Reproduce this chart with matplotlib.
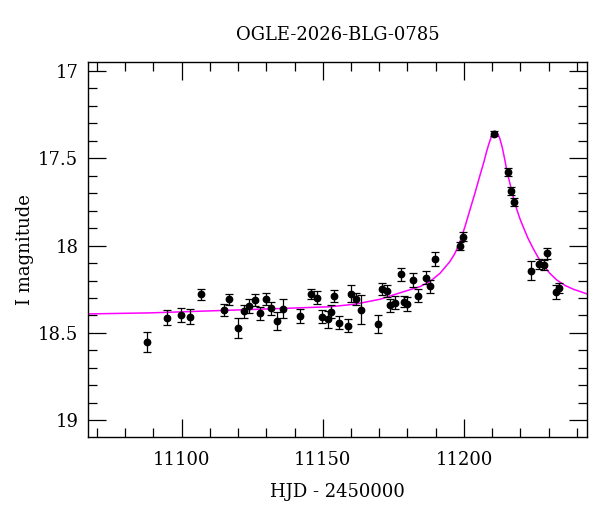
import matplotlib
matplotlib.use("Agg")
import matplotlib.pyplot as plt
from matplotlib.ticker import MultipleLocator

title = "OGLE-2026-BLG-0785"
xlabel = "HJD - 2450000"
ylabel = "I magnitude"

# observations
hjd = [11087.8, 11094.9, 11099.9, 11102.8, 11106.9, 11114.9, 11116.9, 11119.8,
       11121.9, 11123.8, 11125.8, 11127.8, 11129.9, 11131.8, 11133.9, 11135.9,
       11142.0, 11145.9, 11147.8, 11149.8, 11151.8, 11153.0, 11153.9, 11155.8,
       11158.9, 11159.9, 11161.8, 11163.7, 11169.7, 11170.9, 11172.8, 11173.8,
       11175.7, 11177.6, 11178.8, 11179.7, 11182.0, 11183.7, 11186.7, 11187.9,
       11189.6, 11198.7, 11199.8, 11210.6, 11215.6, 11216.5, 11217.7, 11223.6,
       11226.6, 11228.5, 11229.6, 11232.5, 11233.6]
mag = [18.551, 18.413, 18.399, 18.407, 18.279, 18.369, 18.307, 18.471,
       18.376, 18.346, 18.311, 18.387, 18.306, 18.359, 18.431, 18.361,
       18.403, 18.277, 18.298, 18.407, 18.422, 18.378, 18.287, 18.441,
       18.458, 18.275, 18.304, 18.367, 18.449, 18.247, 18.258, 18.342,
       18.327, 18.165, 18.321, 18.334, 18.197, 18.287, 18.184, 18.233,
       18.077, 18.003, 17.950, 17.359, 17.578, 17.689, 17.750, 18.144,
       18.106, 18.110, 18.045, 18.266, 18.245]
mag_err = [0.057, 0.042, 0.040, 0.042, 0.032, 0.034, 0.032, 0.055,
           0.038, 0.038, 0.034, 0.038, 0.034, 0.038, 0.050, 0.053,
           0.042, 0.030, 0.038, 0.038, 0.048, 0.038, 0.034, 0.038,
           0.038, 0.048, 0.034, 0.082, 0.050, 0.034, 0.034, 0.038,
           0.038, 0.038, 0.030, 0.038, 0.038, 0.038, 0.038, 0.038,
           0.038, 0.025, 0.025, 0.015, 0.023, 0.023, 0.023, 0.053,
           0.029, 0.029, 0.029, 0.038, 0.029]

# model curve
model_hjd = [11066.8, 11088.9, 11113.1, 11134.9, 11152.6, 11161.5, 11170.3,
             11177.4, 11184.4, 11188.0, 11191.5, 11195.0, 11196.8, 11198.6,
             11200.4, 11202.1, 11203.9, 11205.7, 11207.1, 11208.0, 11208.8,
             11209.5, 11210.1, 11210.6, 11211.0, 11211.5, 11212.1, 11212.7,
             11213.6, 11214.5, 11215.3, 11216.3, 11217.4, 11218.6, 11219.8,
             11221.0, 11222.6, 11224.5, 11226.3, 11228.1, 11230.5, 11232.9,
             11235.8, 11238.8, 11243.7]
model_mag = [18.391, 18.385, 18.372, 18.360, 18.350, 18.335, 18.307,
             18.270, 18.235, 18.205, 18.159, 18.092, 18.045, 17.978,
             17.890, 17.797, 17.700, 17.597, 17.520, 17.464, 17.420,
             17.387, 17.362, 17.349, 17.346, 17.350, 17.364, 17.387,
             17.440, 17.511, 17.580, 17.645, 17.720, 17.787, 17.845,
             17.893, 17.955, 18.016, 18.068, 18.111, 18.160, 18.197,
             18.228, 18.250, 18.277]

plt.rcParams['font.family'] = ['DejaVu Serif']
fig = plt.figure(figsize=(6.0, 5.12), dpi=100)
ax = fig.add_axes([88/600, 1-437/512, (587-88)/600, (437-62)/512])

ax.plot(model_hjd, model_mag, color='#ff00ff', lw=1.1, zorder=2)
ax.errorbar(hjd, mag, yerr=mag_err, fmt='o', color='black', ms=4.6,
            ecolor='black', elinewidth=0.9, capsize=3, capthick=0.9, zorder=3)

ax.set_xlim(11066.8, 11243.6)
ax.set_ylim(19.095, 16.95)
ax.xaxis.set_major_locator(MultipleLocator(50))
ax.xaxis.set_minor_locator(MultipleLocator(10))
ax.yaxis.set_minor_locator(MultipleLocator(0.1))
ax.set_yticks([17, 17.5, 18, 18.5, 19])
ax.set_yticklabels(['17', '17.5', '18', '18.5', '19'])
ax.tick_params(which='both', direction='in', top=True, right=True, width=0.9,
               labelsize=13)
ax.tick_params(which='major', length=13)
ax.tick_params(axis='x', which='major', pad=10)
ax.tick_params(axis='y', which='major', pad=7)
ax.tick_params(which='minor', length=6.5)
for s in ax.spines.values():
    s.set_linewidth(1.0)

ax.set_title(title, fontsize=13, pad=16)
ax.set_xlabel(xlabel, fontsize=13, labelpad=10)
ax.set_ylabel(ylabel, fontsize=13, labelpad=3)

fig.savefig('out.png', dpi=100)
